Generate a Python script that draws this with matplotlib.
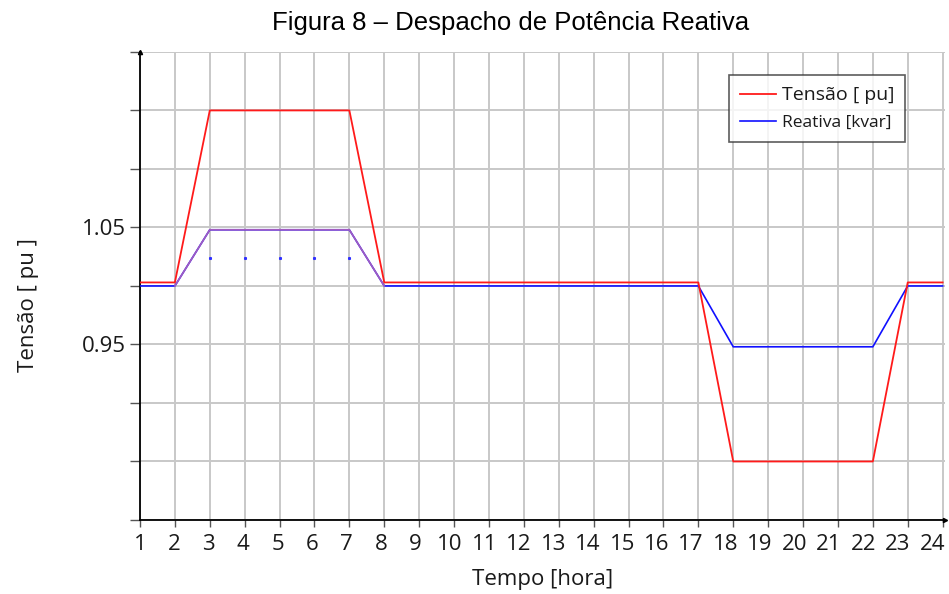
# Despacho de potencia reativa - tensao e reativa ao longo do dia

import matplotlib.pyplot as plt
import matplotlib.transforms as mtransforms
import numpy as np

hours = np.arange(1, 25)
tensao = [1.003, 1.003, 1.15, 1.15, 1.15, 1.15, 1.15, 1.003, 1.003, 1.003, 1.003, 1.003,
          1.003, 1.003, 1.003, 1.003, 1.003, 0.85, 0.85, 0.85, 0.85, 0.85, 1.003, 1.003]
reativa = [1.0, 1.0, 1.048, 1.048, 1.048, 1.048, 1.048, 1.0, 1.0, 1.0, 1.0, 1.0,
           1.0, 1.0, 1.0, 1.0, 1.0, 0.948, 0.948, 0.948, 0.948, 0.948, 1.0, 1.0]
# trecho em que a curva aparece roxa (horas 2 a 8)
roxo_ini, roxo_fim = 2, 8
# pontinhos azuis entre as horas 3 e 7
dots_h = [3, 4, 5, 6, 7]
dots_v = [1.024, 1.024, 1.024, 1.024, 1.024]

yticks = [0.80, 0.85, 0.90, 0.95, 1.00, 1.05, 1.10, 1.15, 1.20]
ylabels = ["", "", "", "0.95", "", "1.05", "", "", ""]

tick_font = "Open Sans"
txt_color = "#1a1a1a"

fig = plt.figure(figsize=(9.49, 5.94), dpi=100)
ax = fig.add_axes([0.1475, 0.1246, 0.848, 0.788])

ax.plot(hours, reativa, "-", color="#1010ff", linewidth=1.2, label="Reativa [kvar]", zorder=3)
i0, i1 = roxo_ini - 1, roxo_fim
ax.plot(hours[i0:i1], reativa[i0:i1], "-", color="#a25cc0", linewidth=1.2, zorder=4)
ax.plot(hours, tensao, "-", color="#ff1a1a", linewidth=1.3, label="Tensão [ pu]", zorder=5)
ax.plot(dots_h, dots_v, "s", color="#3030ff", markersize=1.2, linestyle="none", zorder=3)

ax.set_xlim(1, 24.06)
ax.set_ylim(0.80, 1.20)
ax.set_xticks(hours)
ax.set_xticklabels([str(h) for h in hours], fontsize=16, family=tick_font, color=txt_color)
ax.set_yticks(yticks)
ax.set_yticklabels(ylabels, fontsize=16, family=tick_font, color=txt_color)
ax.tick_params(axis="y", direction="out", length=7, width=1, color="#555555", pad=3)
ax.tick_params(axis="x", direction="out", length=5, width=1, color="#555555", pad=5)
ax.grid(True, color="#c8c8c8", linewidth=1.4)
ax.set_axisbelow(True)

# os rotulos do eixo x ficam um pouco deslocados para a esquerda
for h, lab in zip(hours, ax.get_xticklabels()):
    off = mtransforms.ScaledTranslation(-0.45 * (h - 1) / 100, 0, fig.dpi_scale_trans)
    lab.set_transform(lab.get_transform() + off)

for s in ["top", "right"]:
    ax.spines[s].set_visible(False)
ax.spines["left"].set_linewidth(1.3)
ax.spines["bottom"].set_linewidth(1.3)

# setas nos eixos
ax.plot(1, 1.20, "^", color="black", markersize=3, clip_on=False)
ax.plot(24.06, 0.80, ">", color="black", markersize=3, clip_on=False)

ax.set_xlabel("Tempo [hora]", fontsize=16, family=tick_font, color=txt_color, labelpad=10)
ax.set_ylabel("Tensão [ pu ]", fontsize=16, family=tick_font, color=txt_color)
ax.yaxis.set_label_coords(-0.126, 0.46)

leg = ax.legend(handles=[ax.lines[2], ax.lines[0]], loc="upper right",
                bbox_to_anchor=(0.9536, 0.8737), bbox_transform=fig.transFigure,
                fontsize=13, frameon=True, fancybox=False, handlelength=2.0,
                handletextpad=0.3, borderpad=0.6, labelspacing=0.6, borderaxespad=0)
leg.get_frame().set_edgecolor("#333333")
leg.get_frame().set_linewidth(1.2)
for t, size in zip(leg.get_texts(), [14, 12.5]):
    t.set_family(tick_font)
    t.set_color(txt_color)
    t.set_fontsize(size)

fig.suptitle("Figura 8 – Despacho de Potência Reativa", x=0.538, y=0.982,
             fontsize=18.5, family="Liberation Sans")

fig.savefig("out.png", dpi=100)
